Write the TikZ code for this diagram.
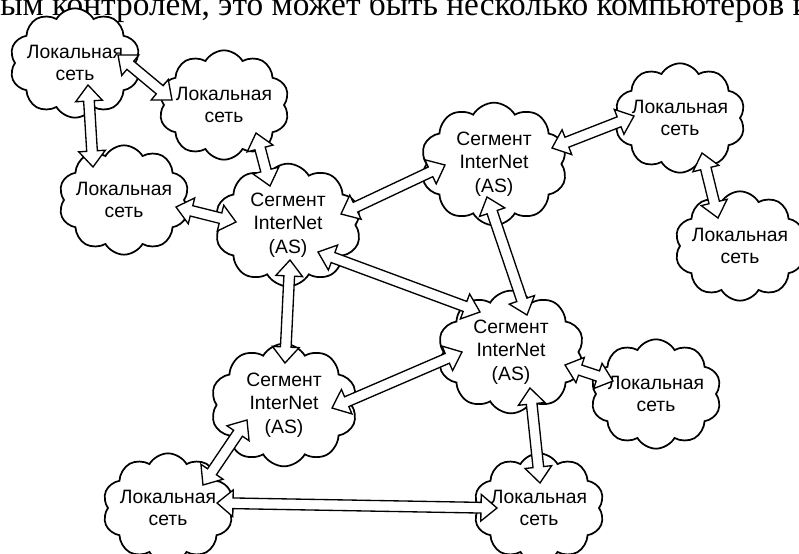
\documentclass[tikz,border=0pt]{standalone}
\usepackage{fontspec}
\setmainfont{Liberation Sans}
\newfontfamily\pagefont{Liberation Serif}
\usetikzlibrary{shapes.symbols,calc}

\tikzset{every picture/.style={line width=0.75pt}}

% fat double-headed arrow between two points given relative to named nodes
\newcommand{\fatlink}[4]{%
  \coordinate (fa) at ($(#1)+(#2)$);
  \coordinate (fb) at ($(#3)+(#4)$);
  \coordinate (fah) at ($(fa)!12pt!(fb)$);
  \coordinate (fbh) at ($(fb)!12pt!(fa)$);
  \draw[fatarrow] (fa) -- ($(fah)!10pt!90:(fb)$) -- ($(fah)!4pt!90:(fb)$)
    -- ($(fbh)!4pt!-90:(fa)$) -- ($(fbh)!10pt!-90:(fa)$) -- (fb)
    -- ($(fbh)!10pt!90:(fa)$) -- ($(fbh)!4pt!90:(fa)$)
    -- ($(fah)!4pt!-90:(fb)$) -- ($(fah)!10pt!-90:(fb)$) -- cycle;
}

\begin{document}
\begin{tikzpicture}[x=0.75pt,y=0.75pt,yscale=-1,xscale=1,
  cloudnode/.style={cloud, cloud puffs=10, cloud puff arc=120, aspect=1.35,
    draw, line width=1.3pt, fill=white, align=center,
    inner xsep=-30pt, inner ysep=-14pt,
    font=\fontsize{14.5}{16.5}\selectfont},
  lannode/.style={cloudnode, minimum width=98pt, minimum height=82pt},
  segnode/.style={cloudnode, minimum width=110pt, minimum height=92pt,
    font=\fontsize{14.5}{17.5}\selectfont},
  fatarrow/.style={draw, fill=white, line width=1pt, line join=miter}]
	\useasboundingbox (0,0) rectangle (799,553);
	\clip (0,0) rectangle (799,553);

	% Line of page text cut at the top
	\node[anchor=base west, inner sep=0pt, font=\pagefont\fontsize{25}{25}\selectfont] (pagetext) at (-18,16) {ным контролем, это может быть несколько компьютеров и};

	% Segments
	\node[segnode] (s1) at (288,225) {Сегмент\\InterNet\\(AS)};
	\node[segnode] (s2) at (494,164) {Сегмент\\InterNet\\(AS)};
	\node[segnode] (s3) at (511,352) {Сегмент\\InterNet\\(AS)};
	\node[segnode] (s4) at (284,405) {Сегмент\\InterNet\\(AS)};

	% Local networks
	\node[lannode] (l1) at (75,63) {Локальная\\сеть};
	\node[lannode] (l2) at (224,105) {Локальная\\сеть};
	\node[lannode] (l3) at (124,200) {Локальная\\сеть};
	\node[lannode] (l4) at (680,118) {Локальная\\сеть};
	\node[lannode] (l5) at (740,246) {Локальная\\сеть};
	\node[lannode] (l6) at (656,394) {Локальная\\сеть};
	\node[lannode] (l7) at (168,508) {Локальная\\сеть};
	\node[lannode] (l8) at (539,508) {Локальная\\сеть};

	% Links
	\fatlink{l1}{43,-8}{l2}{-52,-5}
	\fatlink{l1}{13,22}{l3}{-31,-33}
	\fatlink{l2}{32,28}{s1}{-18,-39}
	\fatlink{l3}{52,7}{s1}{-52,-3}
	\fatlink{s1}{53,-11}{s2}{-49,1}
	\fatlink{s2}{58,-16}{l4}{-46,-2}
	\fatlink{l4}{22,35}{l5}{-22,-28}
	\fatlink{s1}{30,27}{s3}{-31,-40}
	\fatlink{s2}{-7,33}{s3}{16,-37}
	\fatlink{s1}{2,35}{s4}{1,-42}
	\fatlink{s3}{-49,0}{s4}{48,3}
	\fatlink{s3}{54,13}{l6}{-43,-13}
	\fatlink{s4}{-37,15}{l7}{35,-23}
	\fatlink{l7}{49,-5}{l8}{-42,0}
	\fatlink{s3}{19,36}{l8}{1,-25}
\end{tikzpicture}
\end{document}
